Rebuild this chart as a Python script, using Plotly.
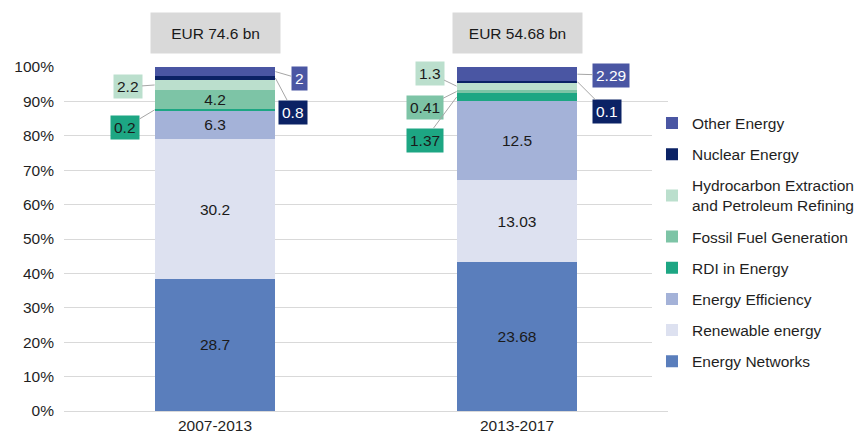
import plotly.graph_objects as go

periods = ["2007-2013", "2013-2017"]
series = ["Energy Networks", "Renewable energy", "Energy Efficiency", "RDI in Energy",
          "Fossil Fuel Generation", "Hydrocarbon Extraction<br>and Petroleum Refining",
          "Nuclear Energy", "Other Energy"]
energy_networks = [28.7, 23.68]
renewable_energy = [30.2, 13.03]
energy_efficiency = [6.3, 12.5]
rdi_energy = [0.2, 1.37]
fossil_fuel = [4.2, 0.41]
hydrocarbon = [2.2, 1.3]
nuclear_energy = [0.8, 0.1]
other_energy = [2, 2.29]

values = [energy_networks, renewable_energy, energy_efficiency, rdi_energy,
          fossil_fuel, hydrocarbon, nuclear_energy, other_energy]
colors = ["#5A7EBC", "#DDE1F0", "#A4B2D8", "#1DA683", "#7DC4A6", "#BBDFCD", "#0B2265", "#4A56A3"]
label_colors = ["#1a1a1a"] * 6 + ["white", "white"]

totals = [round(sum(v[i] for v in values), 2) for i in range(len(periods))]
shares = [[v[i] / totals[i] * 100 for i in range(len(periods))] for v in values]

# callout offsets (pixels) for small segments: (series index, period index) -> (side, ax, ay)
callouts = {
    (5, 0): (-1, -27, 2), (3, 0): (-1, -30, 18), (7, 0): (1, 24, 7), (6, 0): (1, 18, 34),
    (5, 1): (-1, -27, -13), (4, 1): (-1, -32, 16), (3, 1): (-1, -32, 43),
    (7, 1): (1, 34, 1), (6, 1): (1, 30, 30),
}

FONT = "Arial, Liberation Sans, sans-serif"
FS = 15.5
BAR_W = 0.4

fig = go.Figure()
for s, name in enumerate(series):
    txt = ["" if (s, i) in callouts else f"{values[s][i]:g}" for i in range(len(periods))]
    fig.add_trace(go.Bar(
        x=periods, y=shares[s], name=name, marker_color=colors[s], marker_line_width=0,
        width=BAR_W, text=txt, textposition="inside", insidetextanchor="middle",
        textangle=0, textfont=dict(size=FS, color="#1a1a1a", family=FONT),
        legendgroup=str(s), legendrank=100 - s, hoverinfo="skip"))

annotations = []
for (s, i), (side, ax, ay) in callouts.items():
    below = sum(shares[k][i] for k in range(s))
    annotations.append(dict(
        x=i + side * BAR_W / 2, y=below + shares[s][i] / 2, xref="x", yref="y",
        text=f"{values[s][i]:g}", showarrow=True, arrowhead=0, arrowwidth=1,
        arrowcolor="#A6A6A6", ax=ax, ay=ay, bgcolor=colors[s], borderpad=3,
        font=dict(size=FS, color=label_colors[s], family=FONT)))

for i, t in enumerate(totals):
    annotations.append(dict(
        x=i, y=1.099, xref="x", yref="paper", yanchor="middle", text=f"EUR {t:g} bn",
        showarrow=False, bgcolor="#D9D9D9", width=121, height=32, borderpad=4,
        font=dict(size=FS, color="#1a1a1a", family=FONT)))

fig.update_layout(
    width=856, height=436, barmode="stack", bargap=0.6,
    margin=dict(l=64, r=188, t=67, b=25, autoexpand=False),
    plot_bgcolor="white", paper_bgcolor="white",
    font=dict(family=FONT, size=FS, color="#1f1f1f"),
    uniformtext=dict(minsize=FS, mode="show"),
    annotations=annotations,
    legend=dict(traceorder="grouped", x=0.9735, xanchor="left", y=0.49,
                yanchor="middle", tracegroupgap=8,
                font=dict(size=FS, color="#1f1f1f", family=FONT), itemwidth=30),
    showlegend=True,
)
fig.update_xaxes(showline=True, linecolor="#D9D9D9", linewidth=1, ticks="",
                 automargin=False, tickfont=dict(size=FS))
fig.update_yaxes(range=[0, 100], dtick=10, ticksuffix="%", gridcolor="#D9D9D9",
                 gridwidth=1, zeroline=False, showline=False, automargin=False,
                 ticklabelstandoff=9, tickfont=dict(size=FS))

fig.write_html("out.html", config={"displayModeBar": False},
               post_script="document.body.style.margin='0';")
